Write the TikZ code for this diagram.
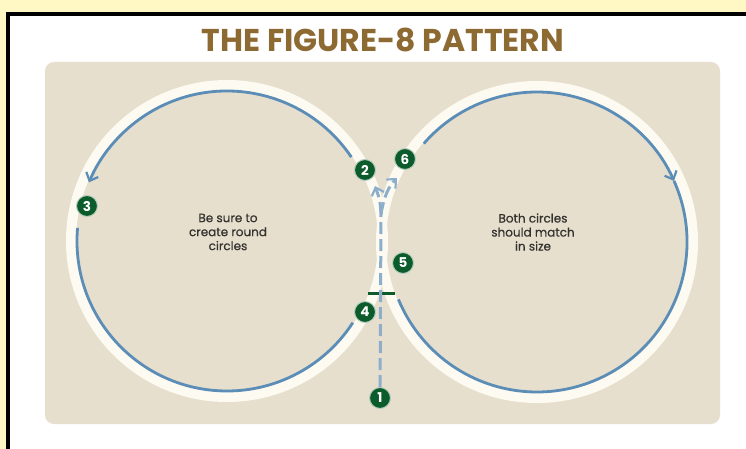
\documentclass[tikz,border=0pt]{standalone}
\usepackage{fontspec}
\setmainfont{Poppins}
\newfontfamily\notefont[FakeBold=0.6]{Poppins}
\usetikzlibrary{arrows.meta}
\definecolor{bgyellow}{HTML}{FFF7C4}
\definecolor{beige}{HTML}{E7DFCE}
\definecolor{titlebrown}{HTML}{8E6A33}
\definecolor{cblue}{HTML}{5B8DB6}
\definecolor{dblue}{HTML}{8DAECB}
\definecolor{ringc}{HTML}{FCFAF1}
\definecolor{fgreen}{HTML}{0C5B2B}
\definecolor{txtgray}{HTML}{33322F}
\begin{document}
\begin{tikzpicture}[x=1pt,y=1pt,
  ringstyle/.style={draw=ringc, line width=10pt},
  bluearc/.style={draw=cblue, line width=2.8pt},
  dashline/.style={draw=dblue, line width=3pt, dash pattern=on 12pt off 5pt},
  barb/.style={-{Straight Barb[length=7pt,width=13pt,line width=2.2pt]}},
  numdot/.style={circle, fill=fgreen, draw=white!70!fgreen, line width=1pt, text=white,
    font=\bfseries\fontsize{13.5}{14}\selectfont, minimum size=21pt, inner sep=0pt},
  note/.style={align=center, text=txtgray, font=\notefont\fontsize{12}{14}\selectfont}
]
\fill[bgyellow] (0,0) rectangle (746,-449);
\useasboundingbox (0,0) rectangle (746,-449);
\fill[black] (6,-12) rectangle (746,-449);
\fill[white] (10,-16) rectangle (746,-449);
\fill[beige, rounded corners=9pt] (45,-62) rectangle (720,-424);

\node[text=titlebrown, font=\bfseries\fontsize{31.5}{34}\selectfont] (title) at (383,-40) {THE FIGURE-8 PATTERN};

\coordinate (L) at (227,-241);
\coordinate (R) at (537,-242);
\draw[ringstyle] (L) circle[radius=156];
\draw[ringstyle] (R) circle[radius=156];

% left circle
\draw[bluearc, barb] ([shift={(34:150)}]L) arc[start angle=34, end angle=157, radius=150];
\draw[bluearc] ([shift={(175:150)}]L) arc[start angle=175, end angle=327, radius=150];
% right circle
\draw[bluearc, barb] ([shift={(139:150)}]R) arc[start angle=139, end angle=24, radius=150];
\draw[bluearc] ([shift={(24:150)}]R) arc[start angle=24, end angle=-157.5, radius=150];

\node[note] (t1) at (228,-232) {Be sure to\\create round\\circles};
\node[note] (t2) at (533,-232) {Both circles\\should match\\in size};

% tick mark
\coordinate (tk1) at (368,-293);
\coordinate (tk2) at (395,-293);
\draw[fgreen, line width=3pt] (tk1) -- (tk2);

\node[numdot] (n1) at (380,-398) {1};
\node[numdot] (n2) at (365,-170) {2};
\node[numdot] (n3) at (87,-206) {3};
\node[numdot] (n4) at (365,-312) {4};
\node[numdot] (n5) at (403,-263) {5};
\node[numdot] (n6) at (405,-159) {6};

\coordinate (split) at (381,-214);
\coordinate (a2) at (375,-186);
\coordinate (a6) at (397,-178);
\draw[dashline] (n1) -- (split);
\draw[dashline, barb] (split) .. controls (380,-200) .. (a2);
\draw[dashline, barb] (split) .. controls (384,-196) and (389,-186) .. (a6);
\end{tikzpicture}
\end{document}
